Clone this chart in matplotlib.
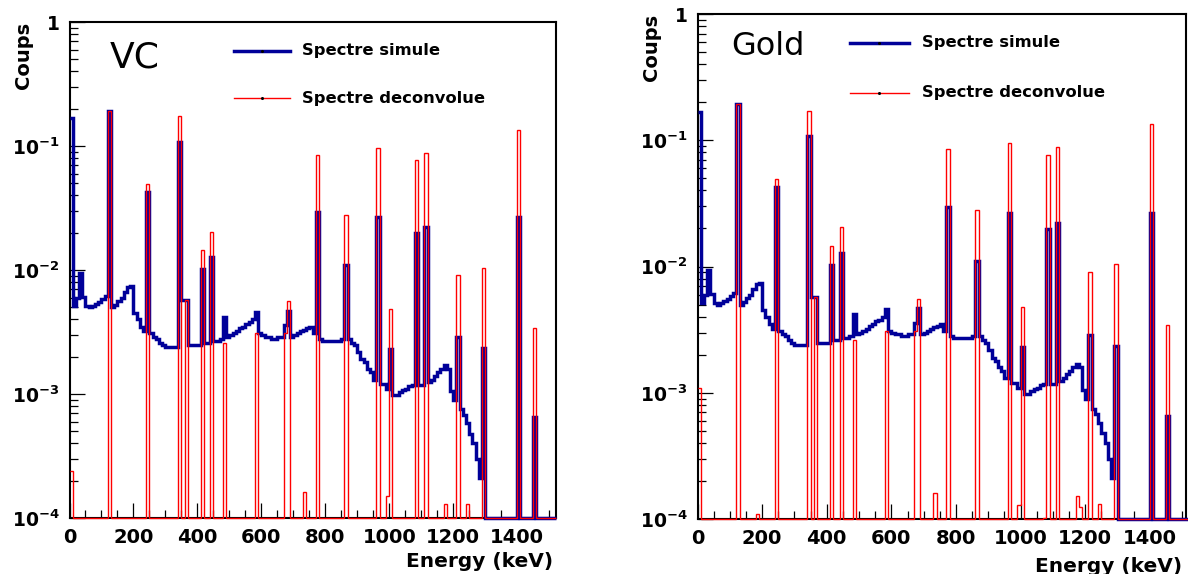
import numpy as np
import matplotlib
matplotlib.use("Agg")
import matplotlib.pyplot as plt
from matplotlib.ticker import FixedLocator, FixedFormatter, LogLocator, NullFormatter, MultipleLocator
from matplotlib.lines import Line2D

plt.rcParams['font.family'] = ['DejaVu Sans']
plt.rcParams['mathtext.fontset'] = 'dejavusans'
plt.rcParams['mathtext.default'] = 'bf'

# ---------------- data ----------------
bin_width = 10  # keV
n_bins = 152

# simulated spectrum (same for both panels), one value per 10 keV bin
simule = [
    0.168, 0.0051, 0.0059, 0.0094, 0.0061, 0.0051, 0.0050, 0.0051, 0.0053, 0.0055,
    0.0058, 0.0062, 0.193, 0.0050, 0.0052, 0.0056, 0.0060, 0.0066, 0.0073, 0.0074,
    0.0045, 0.0040, 0.0035, 0.0032, 0.0423, 0.0031, 0.0029, 0.0028, 0.0026, 0.0025,
    0.0024, 0.0024, 0.0024, 0.0024, 0.108, 0.0057, 0.0057, 0.0025, 0.0025, 0.0025,
    0.0025, 0.0102, 0.0026, 0.0026, 0.0128, 0.0027, 0.0027, 0.0028, 0.0042, 0.0029,
    0.0030, 0.0031, 0.0032, 0.0034, 0.0035, 0.0037, 0.0038, 0.0040, 0.0046, 0.0031,
    0.0030, 0.0029, 0.0029, 0.0028, 0.0028, 0.0029, 0.0029, 0.0036, 0.0047, 0.0029,
    0.0030, 0.0031, 0.0032, 0.0033, 0.0034, 0.0035, 0.0031, 0.0294, 0.0028, 0.0027,
    0.0027, 0.0027, 0.0027, 0.0027, 0.0027, 0.0028, 0.0110, 0.0028, 0.0026, 0.0025,
    0.0022, 0.0019, 0.0018, 0.0016, 0.0015, 0.0013, 0.0267, 0.0012, 0.0012, 0.0011,
    0.00229, 0.00098, 0.00098, 0.00103, 0.00107, 0.0011, 0.00115, 0.00118, 0.0198, 0.00118,
    0.00118, 0.0223, 0.00125, 0.0013, 0.0014, 0.0015, 0.0016, 0.0017, 0.0016, 0.00105,
    0.0009, 0.00287, 0.00075, 0.00068, 0.00058, 0.00048, 0.0004, 0.0003, 0.00021, 0.00235,
    0, 0, 0, 0, 0, 0, 0, 0, 0, 0,
    0.0267, 0, 0, 0, 0, 0.000656, 0, 0, 0, 0,
    0, 0,
]

# deconvolved spectrum, non-empty bins (bin index, value)
deconv_vc_bins = [0, 12, 24, 34, 36, 41, 44, 48, 58, 67, 68, 73, 77, 86, 96, 99,
                  100, 108, 111, 117, 121, 124, 129, 140, 145]
deconv_vc_vals = [0.00024, 0.193, 0.0497, 0.174, 0.0057, 0.0145, 0.0204, 0.0026,
                  0.0031, 0.0031, 0.0056, 0.000163, 0.0846, 0.0279, 0.0958, 0.00015,
                  0.00482, 0.077, 0.0883, 0.00013, 0.0091, 0.00013, 0.0104, 0.1346,
                  0.00343]

deconv_gold_bins = [0, 12, 18, 24, 34, 36, 41, 44, 48, 58, 67, 68, 73, 77, 86, 96,
                    99, 100, 107, 108, 111, 117, 118, 121, 124, 129, 140, 145]
deconv_gold_vals = [0.0011, 0.193, 0.00011, 0.0497, 0.171, 0.0057, 0.0145, 0.0204,
                    0.0026, 0.0031, 0.0031, 0.0055, 0.00016, 0.0846, 0.0279, 0.0958,
                    0.000129, 0.00482, 0.000102, 0.077, 0.0883, 0.000153, 0.000125,
                    0.0091, 0.000131, 0.0104, 0.1346, 0.00343]

panel_titles = ['VC', 'Gold']
legend_labels = ['Spectre simule', 'Spectre deconvolue']
x_ticks = [0, 200, 400, 600, 800, 1000, 1200, 1400]
y_ticks = [1e-4, 1e-3, 1e-2, 1e-1, 1]
y_tick_labels = [r'$10^{-4}$', r'$10^{-3}$', r'$10^{-2}$', r'$10^{-1}$', r'$1$']

# ---------------- figure ----------------
W, H = 1188, 574
fig = plt.figure(figsize=(W / 100, H / 100), dpi=100)

def fx(x):
    return x / W

def fy(y):
    return 1 - y / H

YMIN, YMAX = 1e-4, 1.0
edges = np.arange(n_bins + 1) * bin_width
BLUE = '#000099'
RED = '#ff0000'

panels = [
    dict(box=(69.5, 22, 555.5, 518), xmax=1520, bins=deconv_vc_bins, vals=deconv_vc_vals,
         title=panel_titles[0], title_xy=(110, 67), title_size=26,
         leg_line=(234, 290), leg_y=(51, 98), leg_text_x=302,
         ylab_xy=(23, 22), xlab_xy=(553, 567)),
    dict(box=(697.5, 14, 1186, 519), xmax=1512, bins=deconv_gold_bins, vals=deconv_gold_vals,
         title=panel_titles[1], title_xy=(731, 55), title_size=23,
         leg_line=(850, 909), leg_y=(43, 93), leg_text_x=922,
         ylab_xy=(651, 14), xlab_xy=(1182, 572)),
]

for p in panels:
    x0, y0, x1, y1 = p['box']
    ax = fig.add_axes([fx(x0), fy(y1), fx(x1) - fx(x0), (y1 - y0) / H])
    ax.set_yscale('log')
    ax.set_xlim(0, p['xmax'])
    ax.set_ylim(YMIN, YMAX)

    blue = np.maximum(np.array(simule, dtype=float), YMIN)
    red_full = np.zeros(n_bins)
    red_full[p['bins']] = p['vals']
    red = np.maximum(red_full, YMIN)

    ax.stairs(blue, edges, baseline=None, color=BLUE, lw=2.5, zorder=3.1, clip_on=False,
              joinstyle='miter')
    ax.stairs(red, edges, baseline=None, color=RED, lw=1.0, zorder=3.2, clip_on=False,
              joinstyle='miter')

    # ticks
    ax.xaxis.set_major_locator(FixedLocator(x_ticks))
    ax.xaxis.set_minor_locator(MultipleLocator(50))
    ax.yaxis.set_major_locator(FixedLocator(y_ticks))
    ax.yaxis.set_major_formatter(FixedFormatter(y_tick_labels))
    ax.yaxis.set_minor_locator(LogLocator(base=10, subs=np.arange(2, 10)))
    ax.yaxis.set_minor_formatter(NullFormatter())
    ax.tick_params(axis='both', which='major', direction='in', length=10.8, width=0.9,
                   top=False, right=False, pad=7)
    ax.tick_params(axis='both', which='minor', direction='in', length=5.5, width=0.9,
                   top=False, right=False)
    ax.tick_params(axis='x', labelsize=14)
    ax.tick_params(axis='y', labelsize=13.5)
    for lab in ax.get_xticklabels():
        lab.set_fontweight('bold')
    for s in ax.spines.values():
        s.set_linewidth(1.5)
        s.set_color('black')

    # title inside
    tx, ty = p['title_xy']
    fig.text(fx(tx), fy(ty), p['title'], fontsize=p['title_size'], ha='left', va='baseline')

    # legend (manual, like ROOT TLegend without border)
    lx0, lx1 = p['leg_line']
    for (yy, col, lw), lab in zip([(p['leg_y'][0], BLUE, 2.5), (p['leg_y'][1], RED, 1.0)],
                                  legend_labels):
        fig.add_artist(Line2D([fx(lx0), fx(lx1)], [fy(yy), fy(yy)], color=col, lw=lw,
                              transform=fig.transFigure))
        fig.add_artist(Line2D([fx((lx0 + lx1) / 2)], [fy(yy)], color='black', marker='o',
                              markersize=1.2, transform=fig.transFigure))
        fig.text(fx(p['leg_text_x']), fy(yy), lab, fontsize=11.8, fontweight='bold',
                 ha='left', va='center')

    # axis titles
    yx, yy = p['ylab_xy']
    fig.text(fx(yx), fy(yy), 'Coups', rotation=90, fontsize=14, fontweight='bold',
             ha='center', va='top')
    xx, xy = p['xlab_xy']
    fig.text(fx(xx), fy(xy), 'Energy (keV)', fontsize=14.5, fontweight='bold',
             ha='right', va='baseline')

fig.savefig('out.png', dpi=100)
